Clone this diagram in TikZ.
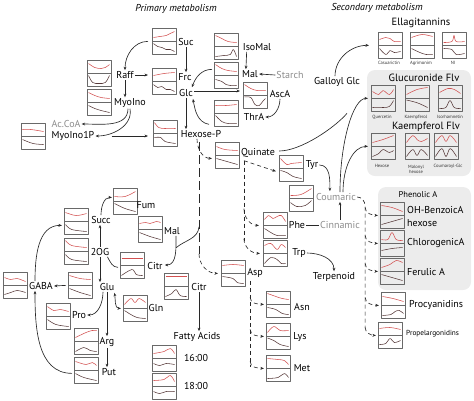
\documentclass[tikz,border=0pt]{standalone}
\usepackage{fontspec}
\setmainfont{PT Sans}
\usetikzlibrary{arrows.meta,calc}
\definecolor{cred}{RGB}{210,80,80}
\definecolor{cdark}{RGB}{85,55,55}
\definecolor{cbox}{RGB}{105,105,105}
\definecolor{cbg}{RGB}{236,236,236}
\definecolor{cgt}{RGB}{140,140,140}
\definecolor{cln}{RGB}{40,40,40}
\tikzset{
 chartbox/.style={draw=cbox, line width=0.7pt, minimum width=24pt, minimum height=26pt, inner sep=0pt, anchor=north west},
 redline/.style={cred, line width=0.55pt},
 darkline/.style={cdark, line width=0.55pt},
 lbl/.style={font=\fontsize{10}{11}\selectfont, inner sep=1pt},
 glbl/.style={lbl, text=cgt},
 tiny/.style={font=\fontsize{4.6}{5}\selectfont, inner sep=0pt, text=black!80},
 head/.style={font=\fontsize{10.5}{12}\selectfont, inner sep=1pt},
 conn/.style={draw=cln, line width=0.65pt, -{Stealth[length=3.5pt,width=2.8pt]}},
 cplain/.style={draw=cln, line width=0.65pt},
 conn2/.style={draw=cln, line width=0.65pt, {Stealth[length=3.5pt,width=2.8pt]}-{Stealth[length=3.5pt,width=2.8pt]}},
 dconn/.style={draw=cln, line width=0.65pt, dash pattern=on 4pt off 3pt, -{Stealth[length=3.5pt,width=2.8pt]}},
 dplain/.style={draw=cln, line width=0.65pt, dash pattern=on 4pt off 3pt},
 dlong/.style={draw=cln, line width=0.65pt, dash pattern=on 9pt off 4pt},
}
\newcommand\mc[5]{%
 \node[chartbox] (#1) at (#2,#3) {};
 \draw[cbox, line width=0.6pt] (#1.west) -- (#1.east);
 \begin{scope}[shift={(#2+1.5,#3+1.5)}, x=2.1pt, y=-1.0pt]
   \draw[redline] plot[smooth, tension=0.6] coordinates {#4};
 \end{scope}
 \begin{scope}[shift={(#2+1.5,#3+14.5)}, x=2.1pt, y=-1.0pt]
   \draw[darkline] plot[smooth, tension=0.6] coordinates {#5};
 \end{scope}}
\begin{document}
\begin{tikzpicture}[x=1pt, y=-1pt, line join=round]
\useasboundingbox (0,0) rectangle (474,400);
% gray groups
\fill[cbg, rounded corners=8pt] (367,70) rectangle (471,176);
\fill[cbg, rounded corners=8pt] (378,187) rectangle (471,290);
% headings
\node[head, font=\fontsize{10}{12}\selectfont\itshape] (h-prim) at (176,9) {Primary metabolism};
\node[head, font=\fontsize{10}{12}\selectfont\itshape] (h-sec) at (377,8) {Secondary metabolism};
% charts
\mc{c-suc}{152}{28}{(0,8)(3,7)(6,6)(8,4)(10,2)}{(0,1)(2,4)(4,5)(6,7)(8,7)(10,9)}
\mc{c-raff}{87}{60}{(0,2)(3,6)(6,7)(8,6)(10,3)}{(0,1)(2,8)(5,9)(8,8)(10,1)}
\mc{c-myo}{87}{89}{(0,2)(3,5)(6,7)(10,8)}{(0,2)(3,5)(6,7)(10,9)}
\mc{c-frc}{152}{68}{(0,6)(5,4)(10,3)}{(0,2)(2,5)(4,4)(6,7)(8,7)(10,9)}
\mc{c-isomal}{214}{33}{(0,1)(3,4)(6,7)(10,8)}{(0,9)(4,8)(7,7)(8.5,2)(10,9)}
\mc{c-mal1}{214}{62}{(0,1)(3,5)(6,7)(10,8)}{(0,3)(3,5)(5,8)(7,9)(10,9)}
\mc{c-asca}{243}{82}{(0,1)(3,5)(6,7)(10,7)}{(0,0.5)(3,1)(5,8)(7,9)(9,4)(10,2)}
\mc{c-thr}{214}{100}{(0,4)(5,4)(10,3)}{(0,1)(3,7)(6,9)(10,9)}
\mc{c-hexp}{153}{120}{(0,1)(2,6)(5,7)(10,7)}{(0,3)(3,3)(5,7)(10,9)}
\mc{c-myo1p}{21}{123}{(0,5)(4,5)(10,7)}{(0,2)(5,6)(10,7)}
\mc{c-quin}{215}{142}{(0,3)(4,6)(10,7)}{(0,2)(5,5)(10,8)}
\mc{c-tyr}{279}{155}{(0,2)(3,8)(5,7)(10,6)}{(0,1)(3,3)(6,7)(10,9)}
\mc{c-coum}{289}{185}{(0,9)(5,8)(10,2)}{(0,3)(3,7)(7,6)(10,1)}
\mc{c-phe}{263}{212}{(0,6)(2,2)(4,5)(6,3)(8,2)(10,8)}{(0,2)(3,6)(6,9)(10,9)}
\mc{c-trp}{263}{240}{(0,4)(3,2)(6,8)(8,3)(10,6)}{(0,9)(3,3)(6,5)(8,9)(10,9)}
\mc{c-ell1}{378}{32}{(0,6)(3,4)(5,5)(7,8)(10,8)}{(0,2)(3,8)(5,4)(7,6)(10,5)}
\mc{c-ell2}{410}{32}{(0,4)(5,1)(10,3)}{(0,2)(4,6)(7,8)(10,8)}
\mc{c-ell3}{442}{32}{(0,9)(4,8)(5,2)(6,8)(10,8)}{(0,2)(4,3)(6,8)(10,7)}
\mc{c-glu1}{371}{85}{(0,5)(3,8)(5,4)(8,8)(10,3)}{(0,8)(5,8)(8,7)(10,1)}
\mc{c-glu2}{405}{85}{(0,8)(5,3)(10,1)}{(0,0.5)(3,2)(6,4)(10,8)}
\mc{c-glu3}{438}{85}{(0,6)(4,2)(7,3)(10,7)}{(0,9)(3,8)(5,1)(7,8)(10,9)}
\mc{c-kae1}{371}{133}{(0,8)(5,5)(10,1)}{(0,9)(3,6)(5,2)(8,5)(10,3)}
\mc{c-kae2}{405}{133}{(0,8)(3,1)(5,5)(7,7)(10,4)}{(0,9)(3,2)(5,8)(7,2)(10,8)}
\mc{c-kae3}{434}{133}{(0,8)(3,1)(5,7)(7,1)(10,8)}{(0,9)(3,1)(5,9)(7,1)(10,9)}
\mc{c-ohb}{380}{202}{(0,2)(5,4)(10,8)}{(0,8)(5,5)(10,2)}
\mc{c-chl}{380}{230}{(0,8)(3,8)(5,1)(7,8)(10,9)}{(0,6)(5,4)(10,3)}
\mc{c-fer}{380}{258}{(0,8)(4,5)(7,1)(10,3)}{(0,2)(5,5)(10,8)}
\mc{c-proc}{381}{292}{(0,3)(5,5)(10,8)}{(0,9)(4,8)(6,5)(8,4)(10,7)}
\mc{c-prop}{378}{322}{(0,5)(5,4)(10,6)}{(0,8)(3,7)(5,2)(7,6)(10,4)}
\mc{c-asp}{221}{260}{(0,4)(5,3)(10,4)}{(0,2)(5,4)(7,8)(10,9)}
\mc{c-asn}{266}{291}{(0,1)(4,4)(7,6)(10,7)}{(0,2)(4,4)(7,8)(10,9)}
\mc{c-lys}{266}{323}{(0,8)(3,2)(6,6)(10,6)}{(0,0.5)(3,3)(6,7)(10,9)}
\mc{c-met}{266}{355}{(0,2)(5,3)(8,4)(10,8)}{(0,9)(5,8)(8,4)(10,8)}
\mc{c-fum}{113}{188}{(0,7)(5,7)(10,2)}{(0,1)(5,6)(10,9)}
\mc{c-malt}{138}{216}{(0,6)(3,5)(5,6)(8,4)(10,5)}{(0,2)(5,6)(10,9)}
\mc{c-succ}{64}{208}{(0,3)(5,6)(10,4)}{(0,2)(3,7)(10,9)}
\mc{c-og}{64}{238}{(0,1)(3,6)(10,8)}{(0,2)(3,7)(10,9)}
\mc{c-citr1}{120}{252}{(0,5)(10,5)}{(0,9)(5,3)(7,8)(10,9)}
\mc{c-gaba}{3}{272}{(0,4)(3,6)(6,5)(10,8)}{(0,8)(3,6)(6,4)(10,6)}
\mc{c-glub}{68}{272}{(0,2)(5,5)(10,6)}{(0,2)(5,6)(10,9)}
\mc{c-pro}{46}{303}{(0,2)(3,6)(6,5)(10,7)}{(0,2)(4,7)(10,9)}
\mc{c-gln}{123}{295}{(0,8)(3,2)(5,6)(7,2)(10,6)}{(0,1)(3,5)(6,8)(10,9)}
\mc{c-arg}{74}{328}{(0,8)(5,3)(8,1)(10,1)}{(0,9)(4,5)(7,8)(10,9)}
\mc{c-put}{74}{357}{(0,3)(5,6)(8,4)(10,7)}{(0,2)(4,6)(10,9)}
\mc{c-citr2}{164}{273}{(0,2)(10,2)}{(0,9)(3,6)(5,2)(7,8)(10,9)}
\mc{c-f16}{152}{345}{(0,7)(5,5)(8,2)(10,7)}{(0,4)(3,6)(6,4)(10,5)}
\mc{c-f18}{152}{373}{(0,6)(5,5)(8,1)(10,7)}{(0,4)(3,6)(6,4)(10,4)}
% labels
\node[lbl] (l-suc) at (186,42) {Suc};
\node[lbl] (l-raff) at (125,75) {Raff};
\node[lbl] (l-frc) at (185,77) {Frc};
\node[lbl] (l-glc) at (186,93) {Glc};
\node[lbl] (l-myo) at (130,103) {MyoIno};
\node[glbl] (l-acoa) at (66,124) {Ac.CoA};
\node[lbl] (l-myo1p) at (73,136) {MyoIno1P};
\node[lbl] (l-hexp) at (201,134) {Hexose-P};
\node[lbl] (l-isomal) at (257,47) {IsoMal};
\node[lbl] (l-mal1) at (250,74) {Mal};
\node[glbl] (l-starch) at (290,75) {Starch};
\node[lbl] (l-asca) at (280,94) {AscA};
\node[lbl] (l-thra) at (254,117) {ThrA};
\node[lbl] (l-gallo) at (337,82) {Galloyl Glc};
\node[head] (l-ella) at (421,23) {Ellagitannins};
\node[tiny] (t-cas) at (389,63) {Casuarictin};
\node[tiny] (t-agr) at (421,63) {Agrimonim};
\node[tiny] (t-ni) at (453,63) {NI};
\node[head] (l-gluc) at (424,78) {Glucuronide Flv};
\node[tiny] (t-que) at (382,117) {Quercetin};
\node[tiny] (t-kae) at (416,117) {Kaempferol};
\node[tiny] (t-iso) at (450,117) {Isorhamnetin};
\node[head] (l-kaef) at (426,127) {Kaempferol Flv};
\node[tiny] (t-hex) at (382,166) {Hexose};
\node[tiny, align=center] (t-mal) at (416,169) {Malonyl\\hexose};
\node[tiny] (t-cou) at (448,166) {Coumaroyl-Glc};
\node[lbl] (l-quin) at (258,153) {Quinate};
\node[lbl] (l-tyr) at (312,165) {Tyr};
\node[glbl] (l-coum) at (336,197) {Coumaric};
\node[lbl] (l-phe) at (297,225) {Phe};
\node[glbl] (l-cinn) at (340,225) {Cinnamic};
\node[lbl] (l-trp) at (299,253) {Trp};
\node[lbl] (l-terp) at (334,277) {Terpenoid};
\node[lbl, font=\fontsize{8.5}{10}\selectfont] (l-phen) at (418,195) {Phenolic A};
\node[lbl, anchor=west] (l-ohb) at (406,210) {OH-BenzoicA};
\node[lbl, anchor=west] (l-ohb2) at (406,223) {hexose};
\node[lbl, anchor=west] (l-chl) at (406,243) {ChlorogenicA};
\node[lbl, anchor=west] (l-fer) at (406,272) {Ferulic A};
\node[lbl, anchor=west] (l-proc) at (408,305) {Procyanidins};
\node[lbl, anchor=west, font=\fontsize{7.3}{8}\selectfont] (l-prop) at (405,334) {Propelargonidins};
\node[lbl] (l-asp) at (255,273) {Asp};
\node[lbl] (l-asn) at (302,307) {Asn};
\node[lbl] (l-lys) at (300,337) {Lys};
\node[lbl] (l-met) at (302,368) {Met};
\node[lbl] (l-fum) at (146,205) {Fum};
\node[lbl] (l-malt) at (172,231) {Mal};
\node[lbl] (l-succ) at (101,220) {Succ};
\node[lbl] (l-og) at (100,252) {2OG};
\node[lbl] (l-citr1) at (155,266) {Citr};
\node[lbl] (l-gaba) at (41,286) {GABA};
\node[lbl] (l-glu) at (107,287) {Glu};
\node[lbl] (l-pro) at (79,315) {Pro};
\node[lbl] (l-gln) at (156,308) {Gln};
\node[lbl] (l-arg) at (107,342) {Arg};
\node[lbl] (l-put) at (109,372) {Put};
\node[lbl] (l-citr2) at (199,287) {Citr};
\node[lbl] (l-fa) at (197,337) {Fatty Acids};
\node[lbl] (l-16) at (196,358) {16:00};
\node[lbl] (l-18) at (196,386) {18:00};
% primary connectors
\draw[conn] ($(c-suc.west)+(-4,0)$) to[out=180,in=90] (l-raff.north);
\draw[conn] (l-suc.south) -- (l-suc.south |- l-frc.north);
\draw[conn] (l-raff.east) -- ($(l-raff.east -| c-frc.west)+(-4,0)$);
\draw[conn] (l-raff.south) -- (l-raff.south |- l-myo.north);
\draw[conn] ($(l-myo.south)+(-2,0)$) to[out=-90,in=0] (l-acoa.east);
\draw[conn] (l-myo.south) to[out=-80,in=0] (l-myo1p.east);
\draw[conn] ($(l-myo1p.east)+(16,0)$) -- ($(c-hexp.west |- l-myo1p.east)+(-5,0)$);
\draw[conn] ($(c-mal1.west)+(-2,-6)$) to[out=180,in=70] ($(l-glc.north east)+(-2,-1)$);
\draw[conn] ($(l-glc.east)+(0,-2)$) -- ($(l-glc.east -| c-asca.west)+(-3,-2)$);
\draw[conn] ($(c-thr.west)+(-5,11)$) to[out=170,in=-80] ($(l-glc.south east)+(-1,1)$);
\draw[conn] (l-glc.south) -- (l-glc.south |- l-hexp.north);
\draw[conn] ($(l-isomal.south west)+(5,0)$) -- ($(l-mal1.north west)+(5,0)$);
\draw[conn] (l-starch.west) -- (l-mal1.east);
\draw[conn] (l-asca.south) to[out=-90,in=0] (l-thra.east);
% secondary connectors
\draw[conn] ($(l-gallo.north)+(-2,0)$) to[out=90,in=180] ($(c-ell1.west)+(-9,0)$);
\coordinate (gj) at ($(c-glu1.west)+(-24,15)$);
\draw[conn] ($(l-coum.north)+(4,0)$) .. controls +(0,-50) and +(-15,0) .. ($(c-glu1.west)+(-3,0)$);
\draw[cplain] ($(l-quin.east)+(3,-2)$) .. controls +(22,0) and +(-12,14) .. (gj);
\draw[conn] ($(l-coum.north)+(7,0)$) .. controls +(0,-25) and +(-15,0) .. ($(c-kae1.west)+(-3,0)$);
% dashed from Hexose-P
\draw[dconn] ($(l-hexp.south)+(-4,0)$) to[out=-90,in=180] ($(c-quin.west)+(-3,3)$);
\draw[dlong] ($(l-hexp.south)+(-2,3)$) -- ++(0,112);
\draw[dconn] ($(l-hexp.south)+(-2,115)$) to[out=-90,in=180] ($(c-asp.west)+(-3,0)$);
\coordinate (hxj) at ($(l-hexp.south)+(-2,88)$);
\draw[cplain] (hxj) to[out=-95,in=40] ($(l-malt.south)+(4,12)$);
\draw[conn] ($(l-malt.south)+(4,0)$) to[out=-90,in=0] ($(l-citr1.east)+(1,-1)$);
% dashed from Quinate
\coordinate (qc) at ($(l-quin.south west)+(4,2)$);
\draw[dconn] (qc) -- ($(c-tyr.west)+(-3,3)$);
\draw[dplain] (qc) -- ++(0,80);
\draw[dconn] ($(qc)+(0,48)$) to[out=-90,in=180] ($(c-phe.west)+(-4,0)$);
\draw[dconn] ($(qc)+(0,78)$) to[out=-90,in=180] ($(c-trp.west)+(-3,0)$);
\draw[conn] (l-tyr.east) to[out=0,in=90] ($(l-coum.north west)+(15,-1)$);
\draw[cplain] (l-phe.east) -- (l-cinn.west);
\draw[conn] (l-cinn.north) -- (l-cinn.north |- l-coum.south);
\draw[conn] (l-trp.east) to[out=0,in=90] (l-terp.north);
% dashed to phenolics
\coordinate (pc) at ($(l-coum.east)+(8,9)$);
\draw[dplain] (l-coum.east) to[out=0,in=90] (pc) -- ++(0,122);
\foreach \b in {c-ohb,c-chl,c-fer,c-proc,c-prop}{
  \draw[dconn] ($(pc |- \b.west)+(0,-8)$) to[out=-90,in=180] ($(\b.west)+(-2,0)$);
}
% dashed from Asp
\coordinate (ac) at ($(l-asp.south west)+(4,2)$);
\draw[dplain] (ac) -- ++(0,86);
\foreach \b in {c-asn,c-lys,c-met}{
  \draw[dconn] ($(ac |- \b.west)+(0,-7)$) to[out=-90,in=180] ($(\b.west)+(-2,0)$);
}
% TCA and amino acids
\draw[conn] (l-succ.north) to[out=90,in=180] ($(c-fum.west)+(-1,-4)$);
\draw[conn] (l-og.north) -- (l-og.north |- l-succ.south);
\draw[cplain] ($(c-citr1.west)+(-2,2)$) to[out=180,in=-60] ($(l-og.south east)+(-3,0)$);
\draw[conn] (l-og.south) -- (l-og.south |- l-glu.north);
\draw[conn] ($(c-glub.west)+(-2,0)$) -- (l-gaba.east);
\draw[conn] ($(l-glu.south)+(-4,0)$) to[out=-90,in=0] (l-pro.east);
\draw[conn2] ($(l-glu.south east)+(-1,1)$) to[out=-80,in=180] ($(c-gln.west)+(-2,0)$);
\draw[conn] (l-glu.south) -- (l-glu.south |- l-arg.north);
\draw[conn] (l-arg.south) -- (l-arg.south |- l-put.north);
\draw[conn] ($(c-put.west)+(-2,3)$) to[out=180,in=-90] ($(l-gaba.south)+(-6,0)$);
\draw[conn] ($(l-gaba.north)+(-6,0)$) to[out=90,in=180] ($(c-succ.west)+(-2,4)$);
\draw[conn] (l-citr2.south) -- (l-citr2.south |- l-fa.north);
\end{tikzpicture}
\end{document}
